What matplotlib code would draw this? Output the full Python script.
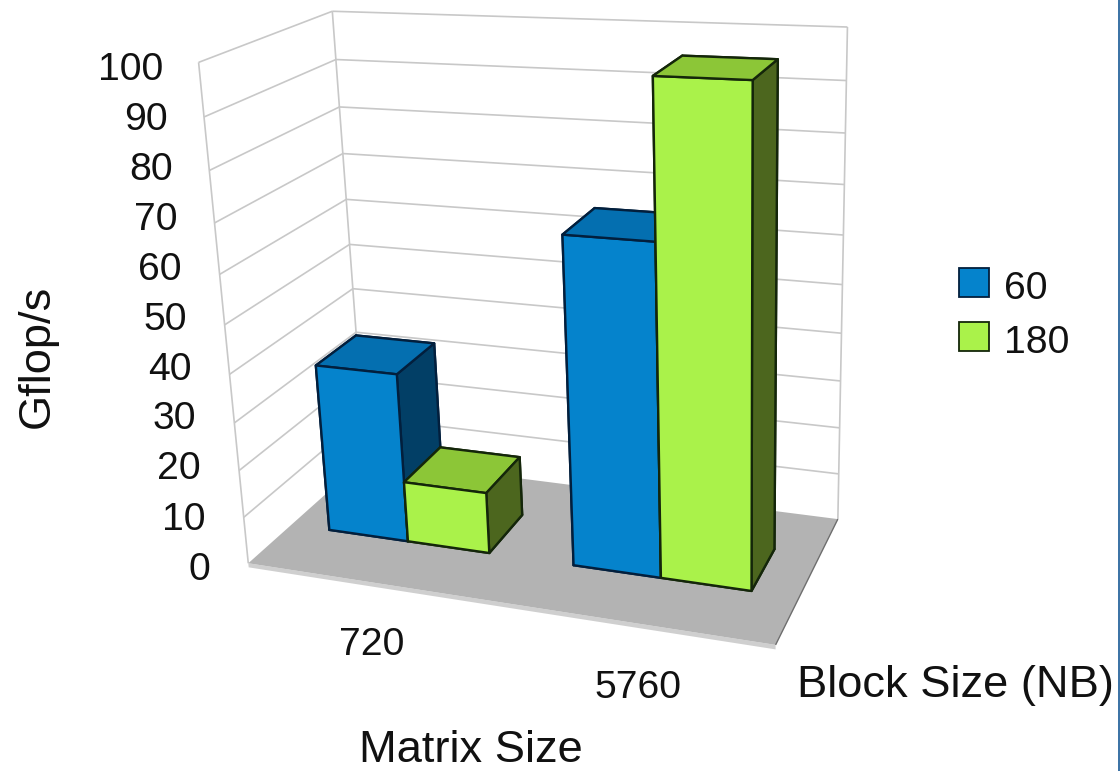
import numpy as np
import matplotlib
matplotlib.use('Agg')
import matplotlib.pyplot as plt
from matplotlib.patches import Patch, Rectangle
from mpl_toolkits.mplot3d.art3d import Poly3DCollection, Line3DCollection

plt.rcParams['font.family'] = ['Liberation Sans', 'DejaVu Sans']

# Chart values
matrix_sizes = ['720', '5760']
block_sizes = ['60', '180']
gflops_nb60 = [36, 67]
gflops_nb180 = [13, 97]
value_ticks = [0, 10, 20, 30, 40, 50, 60, 70, 80, 90, 100]

# Face colours: bottom, top, -y (front), +y, -x, +x (right side)
BLUE_FACES = ['#0583cc', '#046fb0', '#0583cc', '#0583cc', '#023f66', '#023f66']
GREEN_FACES = ['#aaf24a', '#8cc637', '#aaf24a', '#aaf24a', '#4c661e', '#4c661e']
BLUE_EDGE = '#021f3d'
GREEN_EDGE = '#14260a'
GRID = '#c8c8c8'
FLOOR = '#b3b3b3'
LIP = '#cfcfcf'
TEXT = '#111111'

W, H = 1120, 771
fig = plt.figure(figsize=(W / 100, H / 100), dpi=100, facecolor='white')
ax = fig.add_axes([0, 0, 1, 1], projection='3d')
ax.set_axis_off()
ax.computed_zorder = False

# Fixed perspective camera, going from (category, depth, value) to canvas pixels
camera = np.array([
    [222.698954, 164.691461, -0.67885333, 248.271529],
    [6.749017, -44.961805, -5.06600262, 563.260032],
    [-0.052819, 0.130111, -0.00091698, 1.0],
])
view = np.array([camera[0], camera[1],
                 [camera[2, 0], camera[2, 1], camera[2, 2], 0.0],
                 camera[2]])
ax.get_proj = lambda: view
ax.apply_aspect = lambda position=None: None
ax._viewLim.intervalx = (0, W)
ax._viewLim.intervaly = (H, 0)


def put_text(px, py, s, **kw):
    """Place a text by its canvas pixel position, measured from the top left."""
    return fig.text(px / W, 1 - py / H, s, color=TEXT, **kw)


n = len(matrix_sizes)
top = value_ticks[-1]

# Wall grid: value lines running along the left and back walls, plus the wall corners
grid_segments = []
for v in value_ticks[1:]:
    grid_segments.append([(0, 0, v), (0, 1, v)])
    grid_segments.append([(0, 1, v), (n, 1, v)])
for x, y in [(0, 0), (0, 1), (n, 1)]:
    grid_segments.append([(x, y, 0), (x, y, top)])
ax.add_collection3d(Line3DCollection(grid_segments, colors=GRID, linewidths=1.2, zorder=0.5))

# Floor slab
lip = Poly3DCollection([[(0, 0, -0.9), (n, 0, -0.9), (n, 0, 0), (0, 0, 0)]],
                       facecolor=LIP, edgecolor='none', zorder=0.8)
floor = Poly3DCollection([[(0, 0, 0), (n, 0, 0), (n, 1, 0), (0, 1, 0)]],
                         facecolor=FLOOR, edgecolor='none', zorder=1)
ax.add_collection3d(lip)
ax.add_collection3d(floor)
ax.add_collection3d(Line3DCollection([[(n, 0, 0), (n, 1, 0)]], colors='#6e6e6e',
                                     linewidths=1.0, zorder=1.5))

# Bars, left to right within each group
bar_width = 1 / 3
bar_front, bar_back = 0.343, 0.683
order = 2.0
for i in range(n):
    for j, (vals, faces, edge) in enumerate([(gflops_nb60, BLUE_FACES, BLUE_EDGE),
                                             (gflops_nb180, GREEN_FACES, GREEN_EDGE)]):
        ax.bar3d(i + 1 / 6 + j * bar_width - 0.003, bar_front, 0,
                 bar_width, bar_back - bar_front, vals[i],
                 color=faces, edgecolor=edge, linewidth=1.7, shade=False, zorder=order)
        order += 1

# Value labels step evenly down the slanted left side of the chart
for v in value_ticks:
    put_text(163 + 0.47 * (top - v), 69.5 + 5.0 * (top - v), str(v),
             ha='right', va='center', fontsize=28.2)

# Category labels below the front edge of the floor
for name, px, py in zip(matrix_sizes, [372, 638], [645, 688]):
    put_text(px, py, name, ha='center', va='center', fontsize=28.2)

# Axis titles
put_text(471, 750, 'Matrix Size', ha='center', va='center', fontsize=32.6)
put_text(797, 686, 'Block Size (NB)', ha='left', va='center', fontsize=32.6)
put_text(37, 356, 'Gflop/s', ha='center', va='center', rotation=90, fontsize=32.6)

# Legend
handles = [Patch(facecolor=BLUE_FACES[2], edgecolor=BLUE_EDGE, linewidth=1.3),
           Patch(facecolor=GREEN_FACES[2], edgecolor=GREEN_EDGE, linewidth=1.3)]
legend = fig.legend(handles, block_sizes, loc='center left',
                    bbox_to_anchor=(959 / W, 1 - 313 / H), frameon=False,
                    fontsize=28.2, handlelength=0.77, handleheight=0.77, handletextpad=0.38,
                    borderpad=0, borderaxespad=0, labelspacing=0.46, labelcolor=TEXT)
for label in legend.get_texts():
    label.set_y(-3)

# Dark strip along the right edge of the canvas
fig.patches.append(Rectangle((1118 / W, 0), 2 / W, 1, transform=fig.transFigure,
                             facecolor='#3e74a6', edgecolor='none'))

fig.savefig('out.png', dpi=100)
